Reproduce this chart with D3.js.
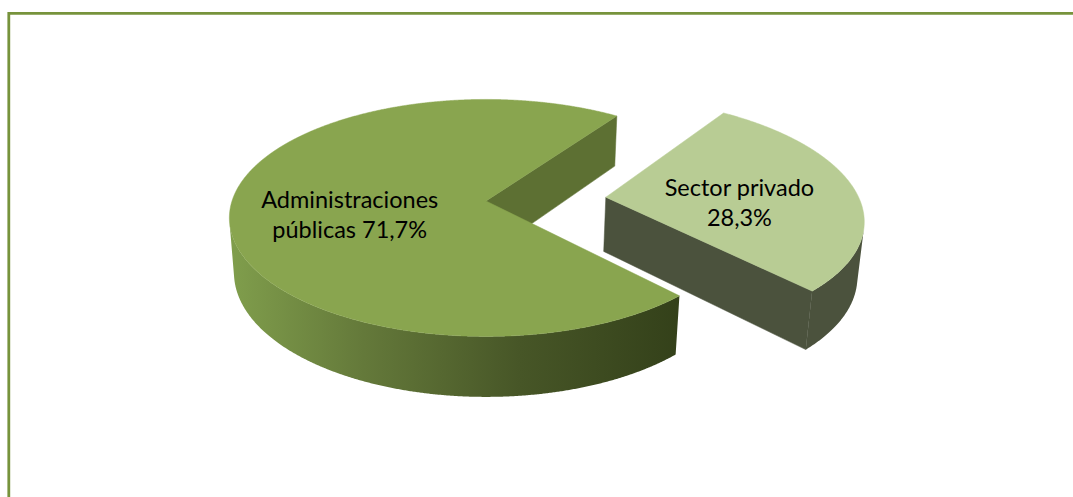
<!DOCTYPE html>
<html>
<head>
<meta charset="utf-8">
<script src="https://cdn.jsdelivr.net/npm/d3@7"></script>
<style>
  html, body { margin: 0; padding: 0; background: #ffffff; }
  svg { display: block; }
</style>
</head>
<body>
<svg id="chart" width="1073" height="497"></svg>
<script>
// ---- data ----
const categories = ["Administraciones públicas", "Sector privado"];
const values = [71.7, 28.3];
const labelLines = [["Administraciones", "públicas 71,7%"], ["Sector privado", "28,3%"]];
const explodeFraction = [0, 0.475];
const firstSliceAngle = 137; // degrees, clockwise from 12 o'clock

// ---- styling / geometry ----
const W = 1073, H = 497;
const cx = 486, cy = 201, K = 254;           // screen centre & radius scale
const sinE = 0.457, elev = Math.asin(sinE), cosE = Math.cos(elev);
const D = 7 * cosE;                            // camera distance (in radii)
const depth = 0.245;                           // pie thickness (in radii)
const topColors = ["#89A54F", "#B8CC94"];
const sideColors = ["url(#mainSide)", "#4B523D"];
const cutColors = ["#5D7033", "#4B523D"];

const svg = d3.select("#chart");
svg.append("rect").attr("width", W).attr("height", H).attr("fill", "#fff");

const defs = svg.append("defs");
const grad = defs.append("linearGradient").attr("id", "mainSide")
  .attr("gradientUnits", "userSpaceOnUse")
  .attr("x1", 230).attr("x2", 676).attr("y1", 0).attr("y2", 0);
[[0, "#809E4C"], [0.3, "#64793A"], [0.65, "#475627"], [1, "#34411A"]]
  .forEach(([o, c]) => grad.append("stop").attr("offset", o).attr("stop-color", c));

// border
svg.append("line").attr("x1", 8.8).attr("x2", W + 5).attr("y1", 13.3).attr("y2", 13.3)
  .attr("stroke", "#77933C").attr("stroke-width", 2.8);
svg.append("line").attr("x1", 8.8).attr("x2", 8.8).attr("y1", 12).attr("y2", H + 5)
  .attr("stroke", "#77933C").attr("stroke-width", 2.8);

// ---- projection ----
function proj(X, Y, Z) {
  const yv = Y * cosE - Z * sinE;
  const zv = Y * sinE + Z * cosE;
  const s = D / (D - zv);
  return [cx + K * X * s, cy - K * yv * s];
}
const camera = [0, D * sinE, D * cosE];

const pie = d3.pie().sort(null).value(d => d)
  .startAngle(firstSliceAngle * Math.PI / 180)
  .endAngle((firstSliceAngle + 360) * Math.PI / 180);
const arcs = pie(values);

const line = d3.line();
const step = Math.PI / 720;

function sliceParts(a, i) {
  const mid = (a.startAngle + a.endAngle) / 2;
  const off = explodeFraction[i];
  const ox = off * Math.sin(mid), oz = -off * Math.cos(mid);
  const rim = (t, Y) => proj(ox + Math.sin(t), Y, oz - Math.cos(t));
  const ctr = (Y) => proj(ox, Y, oz);
  const angles = d3.range(a.startAngle, a.endAngle, step).concat([a.endAngle]);
  return { mid, ox, oz, rim, ctr, angles };
}

// draw order: exploded slice (back) first, then main
const order = [1, 0];
const g = svg.append("g");
order.forEach(i => {
  const a = arcs[i];
  const p = sliceParts(a, i);
  const sg = g.append("g").attr("class", "slice-" + i);

  // cut faces
  [[a.startAngle, -1], [a.endAngle, 1]].forEach(([t, sgn]) => {
    const nt = t + sgn * Math.PI / 2;
    const n = [Math.sin(nt), 0, -Math.cos(nt)];
    const O = [p.ox, 0, p.oz];
    const dot = n[0] * (camera[0] - O[0]) + n[1] * (camera[1] - O[1]) + n[2] * (camera[2] - O[2]);
    if (dot > 0) {
      const pts = [p.ctr(0), p.rim(t, 0), p.rim(t, -depth), p.ctr(-depth)];
      sg.append("path").attr("d", line(pts) + "Z").attr("fill", cutColors[i])
        .attr("stroke", cutColors[i]).attr("stroke-width", 0.5);
    }
  });

  // outer wall (visible runs only)
  const visible = t => {
    const n = [Math.sin(t), 0, -Math.cos(t)];
    const P = [p.ox + n[0], -depth / 2, p.oz + n[2]];
    return n[0] * (camera[0] - P[0]) + n[1] * (camera[1] - P[1]) + n[2] * (camera[2] - P[2]) > 0;
  };
  let runs = [], cur = [];
  p.angles.forEach(t => {
    if (visible(t)) cur.push(t);
    else if (cur.length) { runs.push(cur); cur = []; }
  });
  if (cur.length) runs.push(cur);
  runs.forEach(run => {
    const topPts = run.map(t => p.rim(t, 0));
    const botPts = run.slice().reverse().map(t => p.rim(t, -depth));
    sg.append("path").attr("d", line(topPts.concat(botPts)) + "Z")
      .attr("fill", sideColors[i]);
  });

  // top face
  const topPts = [p.ctr(0)].concat(p.angles.map(t => p.rim(t, 0)));
  sg.append("path").attr("d", line(topPts) + "Z").attr("fill", topColors[i])
    .attr("stroke", topColors[i]).attr("stroke-width", 0.5);
});

// labels
const labelR = 0.535;
arcs.forEach((a, i) => {
  const p = sliceParts(a, i);
  const [lx, ly] = proj(p.ox + labelR * Math.sin(p.mid), 0, p.oz - labelR * Math.cos(p.mid));
  const t = svg.append("text").attr("text-anchor", "middle")
    .attr("font-family", "Lato, 'Open Sans', sans-serif").attr("font-size", 23.5)
    .attr("fill", "#000");
  labelLines[i].forEach((s, j) => {
    t.append("tspan").attr("x", lx).attr("y", ly + 3 + j * 30).text(s);
  });
});
</script>
</body>
</html>
